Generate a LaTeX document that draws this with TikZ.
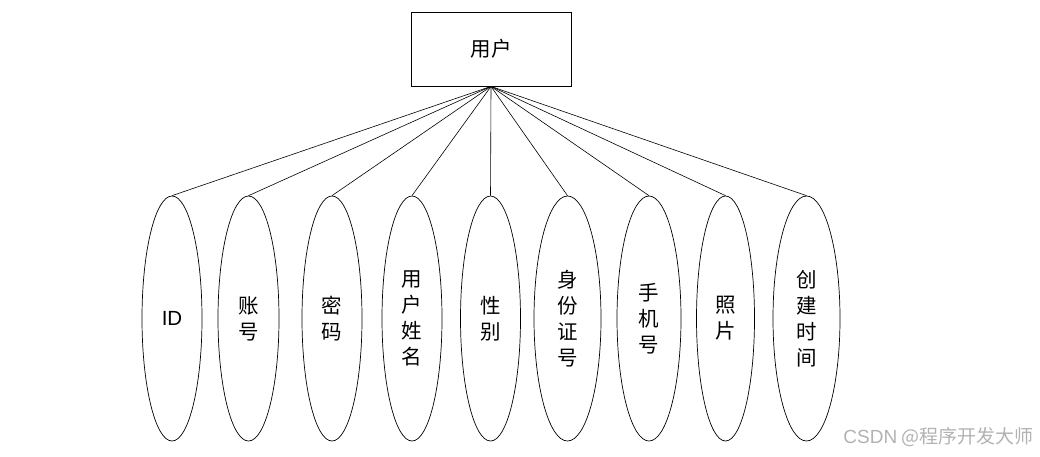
\documentclass[tikz,border=0pt]{standalone}
\usepackage{fontspec}
\setmainfont{Noto Sans CJK SC}
\newfontfamily\latinfont{Liberation Sans}
\usetikzlibrary{shapes.geometric}
\begin{document}
\begin{tikzpicture}[x=1pt,y=-1pt,
  every node/.style={font=\fontsize{20.5}{26}\selectfont, align=center},
  entity/.style={draw, line width=0.8pt, rectangle, minimum width=160pt, minimum height=74pt, inner sep=0pt},
  attr/.style={draw, line width=0.7pt, ellipse, minimum height=245pt, inner sep=0pt},
  link/.style={line width=0.6pt}]
\useasboundingbox (0,0) rectangle (1040,456);
\node[entity] (user) at (491,49) {用户};
\node[attr, minimum width=60pt] (a1) at (172,318.5) {{\latinfont ID}};
\node[attr, minimum width=61pt] (a2) at (248.5,318.5) {账\\号};
\node[attr, minimum width=60pt] (a3) at (332,318.5) {密\\码};
\node[attr, minimum width=60pt] (a4) at (412,318.5) {用\\户\\姓\\名};
\node[attr, minimum width=60pt] (a5) at (490.5,318.5) {性\\别};
\node[attr, minimum width=67pt] (a6) at (567.5,318.5) {身\\份\\证\\号};
\node[attr, minimum width=64pt] (a7) at (649,318.5) {手\\机\\号};
\node[attr, minimum width=58pt] (a8) at (725.5,318.5) {照\\片};
\node[attr, minimum width=67pt] (a9) at (806.5,318.5) {创\\建\\时\\间};
\foreach \i in {1,...,9} \draw[link] (user.south) -- (a\i.north);
\node[text=black!30, font=\fontsize{19}{22}\selectfont, anchor=east] (wm) at (1037,437) {{\latinfont CSDN} @程序开发大师};
\end{tikzpicture}
\end{document}
